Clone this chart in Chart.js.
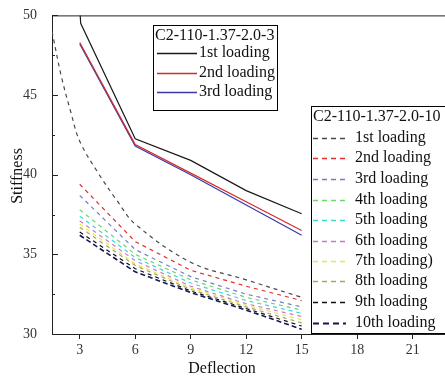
<!DOCTYPE html>
<html lang="en">
<head>
  <meta charset="UTF-8" />
  <title>Stiffness vs Deflection</title>
  <script src="https://cdn.jsdelivr.net/npm/chart.js"></script>
  <style>
    html, body { margin: 0; padding: 0; background: #fff; }
    #wrap { width: 445px; height: 379px; position: relative; }
  </style>
</head>
<body>
  <div id="wrap"><canvas id="chart" width="445" height="379"></canvas></div>

  <script>
    // deflection values shared by most series
    const deflection = [3, 6, 9, 12, 15];
    const xTicks = [3, 6, 9, 12, 15, 18, 21];
    const yTicks = [30, 35, 40, 45, 50];
    const yMinorTicks = [32.5, 37.5, 42.5, 47.5];

    // specimen C2-110-1.37-2.0-3 (solid)
    const spec3Name = "C2-110-1.37-2.0-3";
    const spec3Labels = ["1st loading", "2nd loading", "3rd loading"];
    const spec3FirstX = [2.95, 3.05, 6, 9, 12, 15];
    const spec3First = [51.5, 49.5, 42.25, 40.9, 39.0, 37.55];
    const spec3Second = [48.3, 41.9, 40.1, 38.3, 36.5];
    const spec3Third = [48.2, 41.8, 40.0, 38.1, 36.2];

    // specimen C2-110-1.37-2.0-10 (dashed)
    const spec10Name = "C2-110-1.37-2.0-10";
    const spec10Labels = ["1st loading", "2nd loading", "3rd loading", "4th loading", "5th loading",
      "6th loading", "7th loading)", "8th loading", "9th loading", "10th loading"];
    const spec10FirstX = [1.5, 2, 2.5, 3, 4, 5, 6, 9, 12, 15];
    const spec10First = [49.0, 46.2, 44.0, 42.1, 40.1, 38.4, 36.9, 34.5, 33.4, 32.3];
    const spec10Second = [39.4, 35.8, 34.0, 33.0, 32.1];
    const spec10Third = [38.7, 35.3, 33.6, 32.5, 31.7];
    const spec10Fourth = [37.8, 35.0, 33.4, 32.3, 31.5];
    const spec10Fifth = [37.4, 34.8, 33.2, 32.1, 31.3];
    const spec10Sixth = [37.1, 34.6, 33.0, 31.9, 31.1];
    const spec10Seventh = [36.9, 34.4, 32.9, 31.8, 30.9];
    const spec10Eighth = [36.7, 34.3, 32.8, 31.7, 30.7];
    const spec10Ninth = [36.4, 34.1, 32.7, 31.6, 30.5];
    const spec10Tenth = [36.2, 33.9, 32.6, 31.5, 30.3];

    const spec3Colors = ["#1a1a1a", "#d42a2a", "#3a3aa8"];
    const spec10Colors = ["#4a4a4a", "#e03030", "#7a7ac8", "#6cd86c", "#38d8d8",
      "#c87ac8", "#e8e84a", "#a8a858", "#111111", "#15155a"];

    const FONT = "'Liberation Serif', 'Times New Roman', serif";

    function pts(xs, ys) {
      return ys.map((y, i) => ({ x: xs[i], y }));
    }

    const spec3Data = [pts(spec3FirstX, spec3First), pts(deflection, spec3Second), pts(deflection, spec3Third)];
    const spec10Data = [pts(spec10FirstX, spec10First), pts(deflection, spec10Second), pts(deflection, spec10Third),
      pts(deflection, spec10Fourth), pts(deflection, spec10Fifth), pts(deflection, spec10Sixth),
      pts(deflection, spec10Seventh), pts(deflection, spec10Eighth), pts(deflection, spec10Ninth),
      pts(deflection, spec10Tenth)];

    const datasets = [];
    spec10Data.forEach((d, i) => {
      datasets.push({
        label: spec10Labels[i], data: d, borderColor: spec10Colors[i],
        borderWidth: i === 9 ? 1.6 : 1.2, borderDash: i === 9 ? [5, 3] : [4, 4],
        pointRadius: 0, tension: i === 0 ? 0.35 : 0, fill: false
      });
    });
    spec3Data.forEach((d, i) => {
      datasets.push({
        label: spec3Labels[i], data: d, borderColor: spec3Colors[i],
        borderWidth: 1.2, pointRadius: 0, tension: 0, fill: false
      });
    });

    function drawLegend(ctx, box, title, labels, colors, dashed, rowY, lineX, textX) {
      ctx.save();
      ctx.fillStyle = "#fff";
      ctx.fillRect(box.x, box.y, box.w, box.h);
      ctx.strokeStyle = "#000";
      ctx.lineWidth = 1;
      ctx.setLineDash([]);
      ctx.strokeRect(box.x + 0.5, box.y + 0.5, box.w, box.h);
      ctx.font = "16px " + FONT;
      ctx.fillStyle = "#111";
      ctx.textBaseline = "middle";
      ctx.textAlign = "left";
      ctx.fillText(title, box.x + 2, box.y + 11);
      labels.forEach((lab, i) => {
        const y = rowY[i];
        ctx.beginPath();
        ctx.strokeStyle = colors[i];
        ctx.lineWidth = dashed && i === 9 ? 1.8 : 1.4;
        ctx.setLineDash(dashed ? (i === 9 ? [6, 4] : [5, 4]) : []);
        ctx.moveTo(lineX[0], y + 0.5);
        ctx.lineTo(lineX[1], y + 0.5);
        ctx.stroke();
        ctx.setLineDash([]);
        ctx.fillText(lab, textX, y);
      });
      ctx.restore();
    }

    const decorations = {
      id: "decorations",
      afterDraw(chart) {
        const { ctx, chartArea } = chart;
        const ys = chart.scales.y;
        ctx.save();
        ctx.strokeStyle = "#222";
        ctx.lineWidth = 1;
        // top frame line
        ctx.beginPath();
        ctx.moveTo(chartArea.left, chartArea.top + 0.5);
        ctx.lineTo(chartArea.right, chartArea.top + 0.5);
        ctx.stroke();
        // inward y ticks
        ctx.beginPath();
        yTicks.forEach(v => {
          const p = Math.round(ys.getPixelForValue(v)) + 0.5;
          ctx.moveTo(chartArea.left, p);
          ctx.lineTo(chartArea.left + 6, p);
        });
        yMinorTicks.forEach(v => {
          const p = Math.round(ys.getPixelForValue(v)) + 0.5;
          ctx.moveTo(chartArea.left, p);
          ctx.lineTo(chartArea.left + 3, p);
        });
        ctx.stroke();
        // axis titles
        ctx.fillStyle = "#111";
        ctx.font = "16px " + FONT;
        ctx.textAlign = "center";
        ctx.textBaseline = "middle";
        ctx.fillText("Deflection", 222, 369);
        ctx.save();
        ctx.translate(18, 176);
        ctx.rotate(-Math.PI / 2);
        ctx.fillText("Stiffness", 0, 0);
        ctx.restore();
        ctx.restore();

        drawLegend(ctx, { x: 153, y: 25, w: 124, h: 85 }, spec3Name, spec3Labels, spec3Colors, false,
          [53, 73, 92], [157, 197], 199);
        drawLegend(ctx, { x: 311, y: 106, w: 140, h: 227 }, spec10Name, spec10Labels, spec10Colors, true,
          [138, 158, 179, 200, 220, 241, 261, 281, 302, 323], [313, 346], 355);
      }
    };

    new Chart(document.getElementById("chart"), {
      type: "line",
      data: { datasets },
      options: {
        responsive: false,
        animation: false,
        layout: { padding: { top: 14, right: 0, left: 0, bottom: 0 } },
        plugins: { legend: { display: false }, tooltip: { enabled: false } },
        scales: {
          x: {
            type: "linear", min: 1.5, max: 22.75,
            afterBuildTicks: s => { s.ticks = xTicks.map(v => ({ value: v })); },
            afterFit: s => { s.height = 45; },
            grid: { drawOnChartArea: false, tickLength: 5, color: "#222" },
            border: { color: "#222", width: 1 },
            ticks: { padding: 3, color: "#333", font: { family: FONT, size: 14 }, maxRotation: 0 }
          },
          y: {
            min: 30, max: 50,
            afterBuildTicks: s => { s.ticks = yTicks.map(v => ({ value: v })); },
            afterFit: s => { s.width = 52; },
            grid: { display: false },
            border: { display: true, color: "#222", width: 1 },
            ticks: { padding: 7, color: "#333", font: { family: FONT, size: 14 } }
          }
        }
      },
      plugins: [decorations]
    });
  </script>
</body>
</html>
